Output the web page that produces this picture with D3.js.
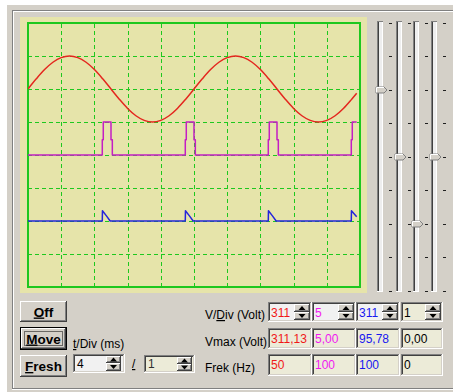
<!DOCTYPE html>
<html>
<head>
<meta charset="utf-8">
<script src="https://cdn.jsdelivr.net/npm/d3@7"></script>
<style>
  body { margin: 0; background: #fff; }
  svg { display: block; font-family: "Liberation Sans", Arial, sans-serif; }
</style>
</head>
<body>
<svg id="scope" width="453" height="392"></svg>
<script>
// ---- Channel samples: time in ms, value in volts ----
const redTimes = [0, 1, 2, 3, 4, 5, 6, 7, 8, 9, 10, 11, 12, 13, 14, 15, 16, 17, 18, 19,
                  20, 21, 22, 23, 24, 25, 26, 27, 28, 29, 30, 31, 32, 33, 34, 35, 36, 37, 38, 39, 39.6];
const redVolts = [0, 96, 183, 252, 296, 311, 296, 252, 183, 96, 0, -96, -183, -252, -296, -311, -296, -252, -183, -96,
                  0, 96, 183, 252, 296, 311, 296, 252, 183, 96, 0, -96, -183, -252, -296, -311, -296, -252, -183, -96, -40];

const pinkTimes = [0, 8.95, 9.07, 10.0, 10.16, 18.95, 19.07, 20.0, 20.16, 28.95, 29.07, 30.0, 30.16, 38.95, 39.07, 39.6];
const pinkVolts = [0, 2.3, 5, 2.3, 0, 2.3, 5, 2.3, 0, 2.3, 5, 2.3, 0, 2.3, 5, 5];

const blueTimes = [0, 8.95, 8.97, 9.45, 9.9, 18.95, 18.97, 19.45, 19.9, 28.95, 28.97, 29.45, 29.9, 38.95, 38.97, 39.6];
const blueVolts = [0, 0, 95.78, 48, 0, 0, 95.78, 48, 0, 0, 95.78, 48, 0, 0, 95.78, 40];

// ---- Channel settings ----
const voltsPerDiv = [311, 5, 311, 1];
const channelOffsets = [2, 0, -2, 0];          // trace position, in divisions
const vmaxVolts = [311.13, 5.00, 95.78, 0.00];
const freqHz = [50, 100, 100, 0];
const timePerDivMs = 4;
const timeZoom = 1;
const buttonLabels = ["Off", "Move", "Fresh"];

// grid positions
const gridTimes = [4, 8, 12, 16, 20, 24, 28, 32, 36];
const gridDivs = [-3, -2, -1, 0, 1, 2, 3];

// ---- Styles ----
const traceColors = ["#e4261e", "#c41ec4", "#2424dc"];
const textColors = ["#f01818", "#f018f0", "#1818f0", "#000000"];
const FACE = "#d4d0c8", LIGHT = "#ffffff", SHADOW = "#808080", DARK = "#404040";
const PANEL = "#e6e4aa", GRID = "#1ec81e";

const svg = d3.select("#scope");

function hline(g, x1, x2, y, c) {
  g.append("line").attr("x1", x1).attr("x2", x2).attr("y1", y + 0.5).attr("y2", y + 0.5)
    .attr("stroke", c).attr("shape-rendering", "crispEdges");
}
function vline(g, x, y1, y2, c) {
  g.append("line").attr("x1", x + 0.5).attr("x2", x + 0.5).attr("y1", y1).attr("y2", y2)
    .attr("stroke", c).attr("shape-rendering", "crispEdges");
}
function raised(g, x, y, w, h) {
  g.append("rect").attr("x", x).attr("y", y).attr("width", w).attr("height", h).attr("fill", FACE);
  hline(g, x, x + w - 1, y, LIGHT);
  vline(g, x, y, y + h - 1, LIGHT);
  hline(g, x, x + w, y + h - 1, DARK);
  vline(g, x + w - 1, y, y + h, DARK);
  hline(g, x + 1, x + w - 1, y + h - 2, SHADOW);
  vline(g, x + w - 2, y + 1, y + h - 1, SHADOW);
}
function sunken(g, x, y, w, h, fill) {
  g.append("rect").attr("x", x).attr("y", y).attr("width", w).attr("height", h).attr("fill", fill);
  hline(g, x, x + w - 1, y, SHADOW);
  vline(g, x, y, y + h - 1, SHADOW);
  hline(g, x + 1, x + w - 2, y + 1, DARK);
  vline(g, x + 1, y + 1, y + h - 2, DARK);
  hline(g, x, x + w, y + h - 1, LIGHT);
  vline(g, x + w - 1, y, y + h, LIGHT);
  hline(g, x + 1, x + w - 1, y + h - 2, FACE);
  vline(g, x + w - 2, y + 1, y + h - 1, FACE);
}
function spinner(g, x, y, w, h) {
  const hh = Math.floor(h / 2);
  raised(g, x, y, w, hh);
  raised(g, x, y + hh, w, h - hh);
  const cx = x + w / 2;
  const cy1 = y + hh / 2, cy2 = y + hh + (h - hh) / 2;
  g.append("path").attr("d", `M${cx - 3.5},${cy1 + 2} L${cx + 3.5},${cy1 + 2} L${cx},${cy1 - 2} Z`).attr("fill", "#000");
  g.append("path").attr("d", `M${cx - 3.5},${cy2 - 2} L${cx + 3.5},${cy2 - 2} L${cx},${cy2 + 2} Z`).attr("fill", "#000");
}

// ---- Window background and etched frame ----
svg.append("rect").attr("width", 453).attr("height", 392).attr("fill", "#fff");
svg.append("rect").attr("x", 7).attr("y", 5).attr("width", 446).attr("height", 387).attr("fill", FACE);
const frame = svg.append("g");
hline(frame, 12, 453, 10, SHADOW);
hline(frame, 13, 453, 11, LIGHT);
vline(frame, 12, 10, 389, SHADOW);
vline(frame, 13, 11, 388, LIGHT);
hline(frame, 12, 453, 388, SHADOW);
hline(frame, 12, 453, 389, LIGHT);

// ---- Screen ----
svg.append("rect").attr("x", 20).attr("y", 17).attr("width", 347).attr("height", 276).attr("fill", PANEL);

const plot = { left: 28, right: 360, top: 23, bottom: 287 };
const x = d3.scaleLinear().domain([0, 10 * timePerDivMs / timeZoom]).range([plot.left, plot.right]);
const yDiv = d3.scaleLinear().domain([-4, 4]).range([plot.bottom, plot.top]);

const gridG = svg.append("g");
gridG.append("g")
  .attr("transform", `translate(0,${plot.bottom})`)
  .call(d3.axisBottom(x).tickValues(gridTimes).tickSize(-(plot.bottom - plot.top)).tickFormat(""));
gridG.append("g")
  .attr("transform", `translate(${plot.left},0)`)
  .call(d3.axisLeft(yDiv).tickValues(gridDivs).tickSize(-(plot.right - plot.left)).tickFormat(""));
gridG.selectAll(".domain").remove();
gridG.selectAll(".tick line")
  .attr("stroke", GRID).attr("stroke-dasharray", "4,3").attr("shape-rendering", "crispEdges");

svg.append("rect")
  .attr("x", plot.left).attr("y", plot.top)
  .attr("width", plot.right - plot.left).attr("height", plot.bottom - plot.top)
  .attr("fill", "none").attr("stroke", GRID).attr("stroke-width", 2);

svg.append("clipPath").attr("id", "screenClip")
  .append("rect").attr("x", plot.left).attr("y", plot.top)
  .attr("width", plot.right - plot.left).attr("height", plot.bottom - plot.top);

const traces = svg.append("g").attr("clip-path", "url(#screenClip)");
const channelData = [
  { times: redTimes, volts: redVolts, curve: d3.curveCatmullRom },
  { times: pinkTimes, volts: pinkVolts, curve: d3.curveStepAfter },
  { times: blueTimes, volts: blueVolts, curve: d3.curveLinear }
];
channelData.forEach((ch, i) => {
  const pts = ch.times.map((t, k) => ({ t, v: ch.volts[k] }));
  const line = d3.line()
    .x(d => x(d.t))
    .y(d => yDiv(d.v / voltsPerDiv[i] + channelOffsets[i]))
    .curve(ch.curve);
  traces.append("path").datum(pts).attr("d", line)
    .attr("fill", "none").attr("stroke", traceColors[i]).attr("stroke-width", 1.5)
    .attr("stroke-linejoin", "round");
});

// ---- Position sliders ----
const sliderY = d3.scaleLinear().domain([-4, 4]).range([290.5, 22.5]);
const trackX = [377, 395.5, 413, 430.5];
const sliders = svg.append("g");
trackX.forEach((tx, i) => {
  const x0 = Math.round(tx);
  sliders.append("rect").attr("x", x0).attr("y", 21).attr("width", 6).attr("height", 271).attr("fill", "#eeeeee");
  vline(sliders, x0, 21, 292, SHADOW);
  vline(sliders, x0 + 1, 22, 291, DARK);
  vline(sliders, x0 + 5, 21, 292, LIGHT);
  hline(sliders, x0, x0 + 6, 21, SHADOW);
  hline(sliders, x0, x0 + 6, 291, LIGHT);
  sliderY.ticks(8).forEach(v => {
    sliders.append("rect").attr("x", x0 + 12).attr("y", Math.round(sliderY(v))).attr("width", 3).attr("height", 1)
      .attr("fill", "#202020");
  });
  // thumb
  const cy = Math.round(sliderY(channelOffsets[i]));
  const l = x0 - 1, r = x0 + 10;
  sliders.append("path")
    .attr("d", `M${l},${cy - 3} L${r - 3},${cy - 3} L${r},${cy} L${r - 3},${cy + 3} L${l},${cy + 3} Z`)
    .attr("fill", FACE).attr("stroke", SHADOW).attr("stroke-width", 1);
  sliders.append("path")
    .attr("d", `M${l + 0.5},${cy + 2.5} L${l + 0.5},${cy - 2.5} L${r - 3},${cy - 2.5}`)
    .attr("fill", "none").attr("stroke", LIGHT).attr("stroke-width", 1);
});

// ---- Buttons ----
const btnG = svg.append("g");
const btnRows = [{ y: 301, h: 21 }, { y: 327, h: 23 }, { y: 355, h: 22 }];
buttonLabels.forEach((label, i) => {
  const b = btnRows[i];
  if (label === "Move") {
    btnG.append("rect").attr("x", 20).attr("y", b.y).attr("width", 47).attr("height", b.h).attr("fill", "#000");
    raised(btnG, 21, b.y + 1, 45, b.h - 2);
    btnG.append("rect").attr("x", 24.5).attr("y", b.y + 4.5).attr("width", 38).attr("height", b.h - 9)
      .attr("fill", "none").attr("stroke", "#000").attr("stroke-dasharray", "1,1");
  } else {
    raised(btnG, 20, b.y, 47, b.h);
  }
  const t = btnG.append("text").attr("x", 43.5).attr("y", b.y + b.h / 2 + 5)
    .attr("text-anchor", "middle").attr("font-size", 13.5).attr("font-weight", "bold").attr("fill", "#000");
  t.append("tspan").style("text-decoration", "underline").text(label[0]);
  t.append("tspan").text(label.slice(1));
});

// ---- Timebase controls ----
const ctl = svg.append("g").attr("font-size", 12).attr("fill", "#000");
const tLab = ctl.append("text").attr("x", 73).attr("y", 348);
tLab.append("tspan").style("text-decoration", "underline").text("t");
tLab.append("tspan").text("/Div (ms)");

sunken(ctl, 73, 354, 52, 19, "#f1f1f1");
spinner(ctl, 106, 356, 15, 15);
ctl.append("text").attr("x", 77).attr("y", 368).text(timePerDivMs);

ctl.append("text").attr("x", 132).attr("y", 368).style("text-decoration", "underline").text("/");

sunken(ctl, 144, 355, 51, 18, "#ecebd8");
spinner(ctl, 177, 357, 15, 14);
ctl.append("text").attr("x", 148).attr("y", 368).attr("fill", "#303030").text(timeZoom);

// ---- Channel fields ----
const vLab = ctl.append("text").attr("x", 205).attr("y", 319);
vLab.append("tspan").text("V/");
vLab.append("tspan").style("text-decoration", "underline").text("D");
vLab.append("tspan").text("iv (Volt)");
ctl.append("text").attr("x", 205).attr("y", 346).text("Vmax (Volt)");
ctl.append("text").attr("x", 205).attr("y", 372).text("Frek (Hz)");

const colX = [268, 312, 356, 401];
const colW = [44, 44, 44, 42];
const fmtComma = v => v.toFixed(2).replace(".", ",");
voltsPerDiv.forEach((v, i) => {
  sunken(ctl, colX[i], 302, colW[i], 20, i === 3 ? "#ecebd8" : "#f1f1f1");
  spinner(ctl, colX[i] + colW[i] - 18, 304, 16, 16);
  ctl.append("text").attr("x", colX[i] + 3).attr("y", 316.5).attr("fill", textColors[i]).text(v);
});
vmaxVolts.forEach((v, i) => {
  sunken(ctl, colX[i], 328, colW[i], 21, "#ecebd8");
  ctl.append("text").attr("x", colX[i] + 3).attr("y", 343).attr("fill", textColors[i]).text(fmtComma(v));
});
freqHz.forEach((v, i) => {
  sunken(ctl, colX[i], 354, colW[i], 22, "#ecebd8");
  ctl.append("text").attr("x", colX[i] + 3).attr("y", 369).attr("fill", textColors[i]).text(v);
});
</script>
</body>
</html>
